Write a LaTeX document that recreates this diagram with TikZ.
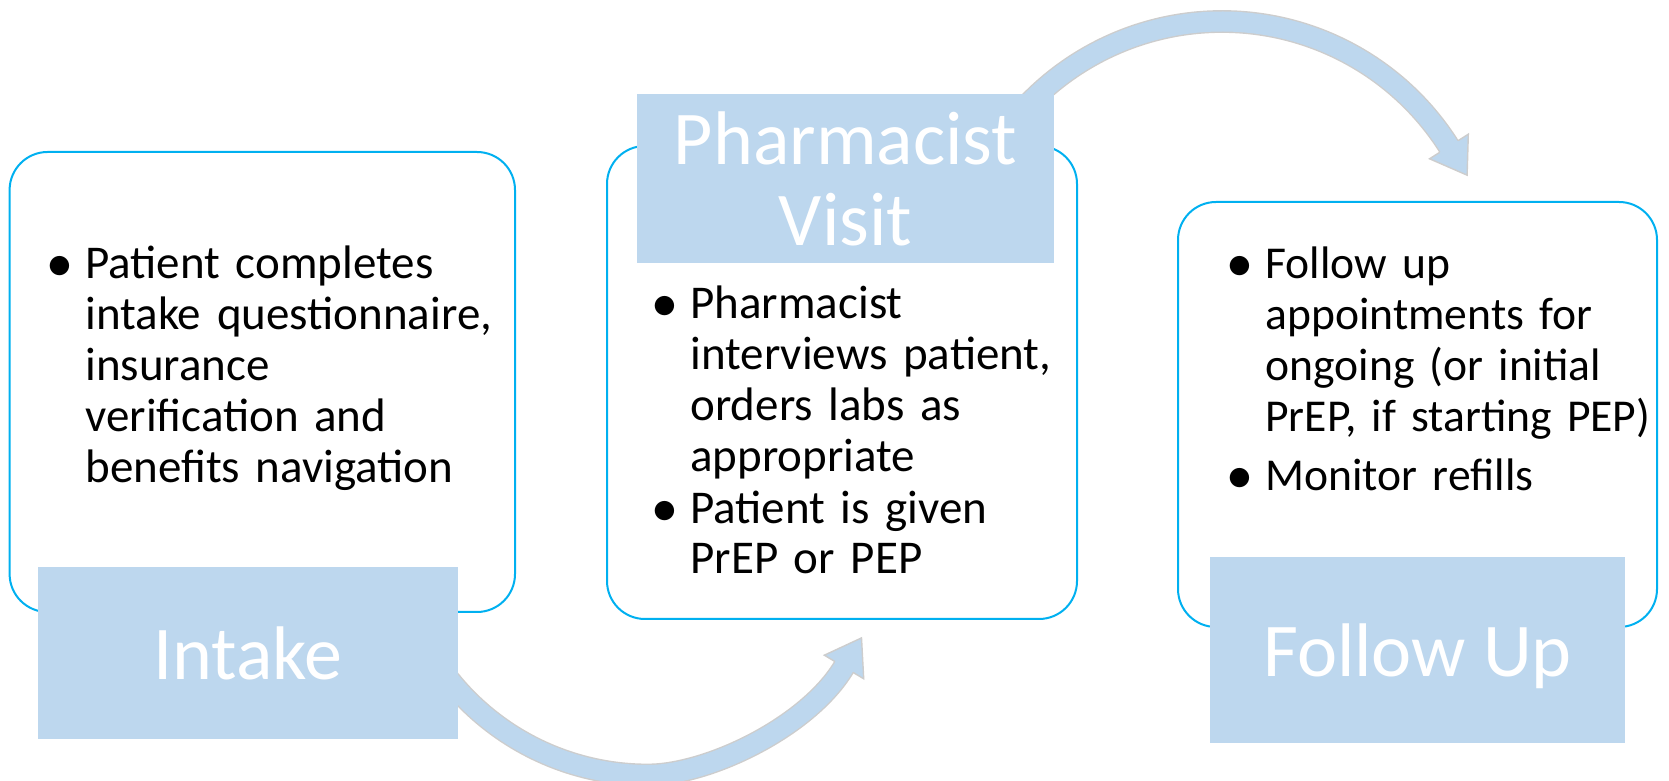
\documentclass[tikz,border=0pt]{standalone}
\usepackage{fontspec}
\setmainfont{Carlito}

\definecolor{cardline}{RGB}{0,176,240}
\definecolor{tabfill}{RGB}{189,215,238}
\definecolor{arrowline}{RGB}{205,205,205}

\newcommand{\bul}{\leavevmode\llap{\makebox[19pt][l]{\fontsize{23.5}{25.4}\selectfont$\bullet$}}}

\tikzset{
  cardbox/.style={draw=cardline, line width=1pt, rounded corners=19pt},
  tabbox/.style={fill=tabfill, text=white, inner sep=0pt, align=center,
    font=\fontsize{38}{40.5}\selectfont},
  bodytext/.style={anchor=base west, inner sep=0pt, text width=215pt, align=left,
    font=\fontsize{23.5}{25.4}\selectfont},
  flowband/.style={draw=arrowline, line width=0.7pt, double=tabfill, double distance=10pt},
  flowhead/.style={fill=tabfill, draw=arrowline, line width=0.7pt, line join=miter},
}

\begin{document}
\begin{tikzpicture}[x=0.5pt, y=0.5pt]
  \useasboundingbox (0,0) rectangle (1669,781);

  % frames
  \draw[cardbox] (9.6,169) rectangle (515,629);
  \draw[cardbox] (607,162) rectangle (1077,635);
  \draw[cardbox] (1178,154) rectangle (1657,579);

  % bent arrows
  \coordinate (a1tail) at (427,133.5);
  \coordinate (a1neck) at (844,114);
  \draw[flowband] (a1tail) arc[start angle=210, end angle=270, radius=255]
    .. controls (708,6) and (808,54) .. (a1neck) -- ++(59:4);
  \filldraw[flowhead] (835,119.4) -- (824.3,125.8) -- (861.5,143.1) -- (863.7,102.2) -- (853,108.6);

  \coordinate (a2tail) at (1002.1,645);
  \draw[flowband] (a2tail) arc[start angle=145, end angle=32.3, radius=268.5] coordinate (a2neck) -- ++(-57.7:4);
  \filldraw[flowhead] (1439.6,628.6) -- (1429.5,622.2) -- (1467.1,605.8) -- (1468.3,646.8) -- (1458.2,640.4);

  % titles
  \node[tabbox, minimum width=210pt, minimum height=86pt, text depth=0pt] (intake) at (248,128) {Intake};
  \node[tabbox, minimum width=208.5pt, minimum height=84.5pt] (visit) at (845.5,602) {Pharmacist\\Visit};
  \node[tabbox, minimum width=207.5pt, minimum height=93pt, text depth=0pt] (followup) at (1417.5,131) {Follow Up};

  % bullets
  \node[bodytext] (intaketext) at (85,502) {\bul Patient completes\\intake questionnaire,\\insurance\\verification and\\benefits navigation};
  \node[bodytext] (visittext) at (690,462) {\bul Pharmacist\\interviews patient,\\orders labs as\\appropriate\\[0.5pt]\bul Patient is given\\PrEP or PEP};
  \node[bodytext, font=\fontsize{22.8}{25.4}\selectfont] (followtext) at (1265,502) {\bul Follow up\\appointments for\\ongoing (or initial\\PrEP, if starting PEP)\\[4pt]\bul Monitor refills};
\end{tikzpicture}
\end{document}
